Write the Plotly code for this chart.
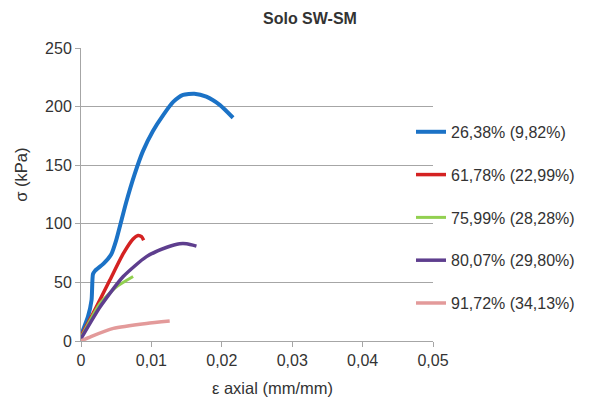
import plotly.graph_objects as go

# ---- data ----
names = ["26,38% (9,82%)", "61,78% (22,99%)", "75,99% (28,28%)", "80,07% (29,80%)", "91,72% (34,13%)"]
colors = ["#1B72C6", "#D42222", "#92D050", "#5E3E8E", "#E39A9A"]

x_blue = [0, 0.001, 0.0015, 0.0017, 0.002, 0.0032, 0.0043, 0.005, 0.0064, 0.0076, 0.0088, 0.0102, 0.0117, 0.0131, 0.0145, 0.0161, 0.0178, 0.0197, 0.0216]
y_blue = [5, 21, 35, 57, 60, 66, 74, 86, 118, 142, 162, 179, 193, 204, 210, 211, 208.5, 201.5, 190.5]

x_red = [0, 0.0017, 0.0041, 0.006, 0.0074, 0.0081, 0.0086, 0.0089]
y_red = [4, 23.5, 52, 74.5, 87, 90, 89, 86]

x_green = [0, 0.0027, 0.005, 0.0074]
y_green = [3, 32, 46, 55]

x_purple = [0, 0.0027, 0.006, 0.0093, 0.0122, 0.014, 0.015, 0.0164]
y_purple = [2, 29, 55, 72, 80, 83, 83, 81]

x_pink = [0, 0.0015, 0.0046, 0.0093, 0.0126]
y_pink = [0, 4, 10.8, 15, 17]

x_ticks = [0, 0.01, 0.02, 0.03, 0.04, 0.05]
y_ticks = [0, 50, 100, 150, 200, 250]

title = "Solo SW-SM"
x_title = "ε axial (mm/mm)"
y_title = "σ (kPa)"

series = [(x_blue, y_blue), (x_red, y_red), (x_green, y_green), (x_purple, y_purple), (x_pink, y_pink)]
widths = [4, 3.5, 3, 3.5, 3.5]

FONT = "Liberation Sans, Arial, sans-serif"
TXT = "#333333"

fig = go.Figure()
for i, ((xs, ys), n, c, w) in enumerate(zip(series, names, colors, widths)):
    fig.add_trace(go.Scatter(
        x=xs, y=ys, mode="lines", name=n, legendgroup=f"g{i}",
        line=dict(color=c, width=w, shape="spline", smoothing=0.6),
    ))

PT, PB, PL, PR = 48, 341.5, 81, 433
PH, PW = PB - PT, PR - PL

fig.update_layout(
    width=592, height=401,
    margin=dict(l=PL, r=592 - PR, t=PT, b=401 - PB),
    paper_bgcolor="white", plot_bgcolor="white",
    separators=",.",
    font=dict(family=FONT, size=16, color=TXT),
    showlegend=True,
    legend=dict(
        x=(411 - PL) / PW, xanchor="left", xref="paper",
        y=(PB - 115) / PH, yanchor="top",
        bgcolor="rgba(0,0,0,0)", borderwidth=0,
        font=dict(family=FONT, size=16, color=TXT),
        tracegroupgap=19, itemwidth=30,
    ),
    xaxis=dict(
        range=[0, 0.05], tickvals=x_ticks, showgrid=False, zeroline=False,
        showline=True, linecolor="#a6a6a6", linewidth=1,
        ticks="outside", ticklen=5, tickcolor="#a6a6a6",
        tickfont=dict(family=FONT, size=16, color=TXT),
    ),
    yaxis=dict(
        range=[0, 250], tickvals=y_ticks, showgrid=True, gridcolor="#a6a6a6", gridwidth=1,
        zeroline=False, showline=True, linecolor="#a6a6a6", linewidth=1,
        ticks="outside", ticklen=5, tickcolor="#a6a6a6",
        tickfont=dict(family=FONT, size=16, color=TXT),
    ),
    annotations=[
        dict(text=f"<b>{title}</b>", xref="paper", yref="paper", x=(310 - PL) / PW, y=(PB - 18) / PH,
             xanchor="center", yanchor="middle", showarrow=False, font=dict(family=FONT, size=16, color=TXT)),
        dict(text=x_title, xref="paper", yref="paper", x=(272 - PL) / PW, y=(PB - 389) / PH,
             xanchor="center", yanchor="middle", showarrow=False, font=dict(family=FONT, size=16.5, color=TXT)),
        dict(text=y_title, xref="paper", yref="paper", x=(21 - PL) / PW, y=(PB - 175) / PH,
             xanchor="center", yanchor="middle", textangle=-90, showarrow=False, font=dict(family=FONT, size=16.5, color=TXT)),
    ],
)

fig.write_html("out.html", config={"displayModeBar": False},
               post_script="document.body.style.margin='0';document.body.style.padding='0';")
